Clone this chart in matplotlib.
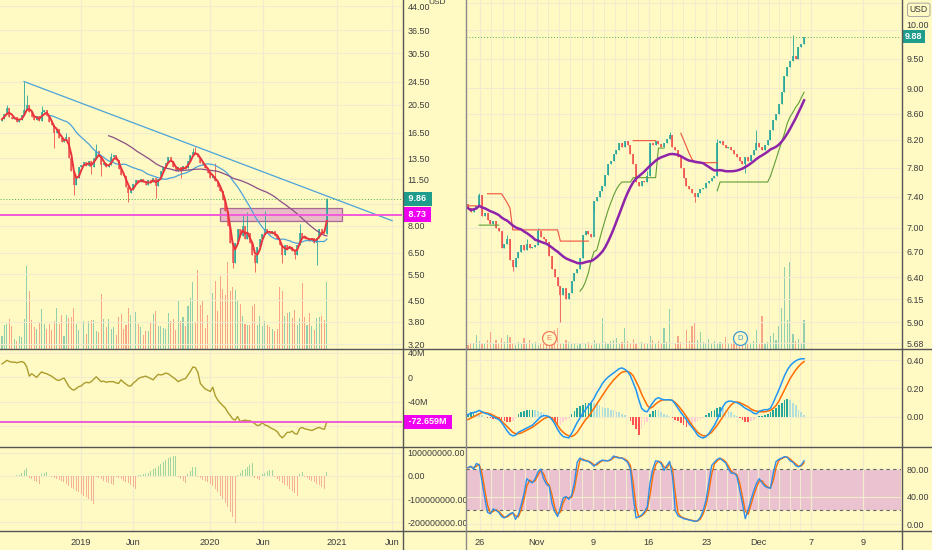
import numpy as np
import pandas as pd
import matplotlib
matplotlib.use("Agg")
import matplotlib.pyplot as plt
import matplotlib.transforms as mtransforms
from matplotlib.lines import Line2D
from matplotlib.patches import Rectangle
from matplotlib.ticker import FixedLocator, FixedFormatter, NullLocator

plt.rcParams['font.family'] = ['Liberation Sans', 'DejaVu Sans']

BG = '#fff9c4'
GRID = '#f1ecce'
UP = '#26a69a'
DN = '#ef5350'
TXT = '#3c3c3c'
SEP = '#555555'

# ---------------- left chart: weekly ----------------
l_open0 = 18.0
l_close = [18.3, 19.0, 20.0, 18.6, 18.3, 18.6, 17.9, 18.2, 18.9, 19.6,
           20.5, 19.3, 18.6, 18.2, 18.8, 18.0, 19.4, 19.6, 18.8, 17.9,
           17.5, 16.5, 17.0, 15.8, 15.3, 15.6, 15.9, 13.5, 12.2, 11.0,
           11.6, 12.6, 12.8, 13.1, 12.7, 13.2, 12.6, 13.5, 14.3, 13.8,
           12.8, 13.0, 12.6, 12.8, 13.6, 13.9, 13.3, 12.4, 11.9, 11.8,
           10.8, 10.3, 10.6, 11.1, 11.4, 11.2, 11.5, 11.2, 11.0, 11.4,
           11.2, 11.6, 10.9, 11.5, 12.2, 12.6, 13.0, 13.6, 13.2, 12.6,
           12.2, 12.6, 12.3, 12.7, 12.5, 13.2, 13.9, 14.2, 14.0, 13.6,
           13.0, 12.8, 12.5, 12.1, 11.6, 11.8, 11.3, 10.8, 10.5, 9.8,
           9.0, 8.0, 7.0, 6.0, 7.0, 7.8, 7.4, 8.0, 7.2, 7.6,
           7.0, 6.4, 6.0, 6.8, 7.2, 7.5, 7.8, 7.6, 7.5, 7.7,
           7.4, 7.2, 6.9, 6.4, 6.9, 6.7, 6.8, 6.6, 6.4, 6.9,
           7.6, 7.3, 7.2, 7.3, 7.1, 7.3, 7.0, 7.3, 7.8, 7.6,
           7.5, 9.86]
l_hi = {2: 20.5, 9: 24.5, 10: 22.0, 16: 20.3, 26: 16.4, 38: 15.1, 44: 14.1,
        77: 14.6, 78: 14.8, 86: 13.0, 97: 8.7, 99: 8.9, 106: 9.0, 120: 8.1, 131: 9.95}
l_lo = {21: 14.6, 29: 10.2, 36: 12.0, 40: 11.8, 51: 9.6, 62: 9.9, 72: 11.6,
        93: 5.75, 102: 5.6, 113: 6.0, 118: 6.2, 127: 5.9}
l_vol = [13, 24, 25, 30, 23, 10, 8, 13, 12, 30,
         84, 58, 29, 22, 20, 26, 40, 25, 20, 25,
         19, 28, 41, 25, 34, 13, 34, 31, 32, 41,
         25, 19, 23, 28, 15, 28, 29, 29, 18, 17,
         55, 30, 22, 30, 20, 22, 14, 32, 35, 20,
         24, 41, 34, 13, 37, 25, 22, 14, 18, 18,
         27, 35, 38, 23, 23, 21, 20, 36, 28, 30,
         19, 48, 28, 32, 23, 43, 51, 68, 26, 80,
         44, 48, 21, 34, 48, 56, 69, 38, 74, 61,
         54, 88, 58, 63, 60, 49, 45, 33, 25, 24,
         24, 43, 45, 24, 33, 23, 28, 24, 22, 20,
         18, 20, 63, 59, 33, 36, 37, 31, 39, 24,
         31, 67, 32, 24, 36, 23, 19, 31, 32, 33,
         29, 68]
l_ad = [22, 25, 28, 26, 25, 25, 24, 25, 26, 24,
        17, 2, 6, 3, 0, 5, 9, 7, 6, 4,
        2, -1, -4, -5, -3, -1, -8, -15, -19, -21,
        -18, -15, -14, -10, -8, -9, -7, -3, 1, -3,
        -7, -6, -8, -7, -7, -7, -9, -10, -4, -8,
        -11, -14, -14, -9, -6, -2, 0, 1, 2, 0,
        -2, -4, 1, 5, 4, 5, 7, 6, 3, 0,
        -3, -7, -5, -3, -2, 4, 10, 17, 16, 8,
        -10, -15, -19, -21, -23, -16, -30, -37, -42, -46,
        -50, -57, -62, -68, -70, -64, -72, -71, -70, -71,
        -71, -73, -76, -79, -78, -74, -78, -79, -82, -84,
        -86, -89, -95, -99, -95, -90, -90, -88, -92, -93,
        -84, -82, -84, -85, -86, -87, -85, -83, -82, -84,
        -85, -72.659]
nan = np.nan
l_osc = [nan, nan, nan, nan, nan, nan, 3, 6, 12, 25,
         36, -8, -15, -22, -28, -33, 8, 15, 18, -2,
         -6, -10, -14, -18, -22, -28, -35, -42, -50, -58,
         -64, -70, -77, -85, -92, -100, -110, -122, -4, -8,
         -14, -20, -25, -30, -36, -40, -3, -8, -14, -20,
         -26, -32, -40, -48, -55, 3, 5, 8, 10, 15,
         22, 30, 36, 44, 52, 60, 70, 78, 82, 86,
         88, -6, -15, -22, -30, 8, 22, 38, 40, -5,
         -10, -16, -22, -28, -36, -45, -56, -70, -85, -100,
         -118, -135, -155, -180, -205, 5, 15, 24, 30, 38,
         47, 55, -10, -14, -16, 8, 14, 20, 24, 26,
         -5, -12, -22, -30, -38, -45, -55, -65, -75, -85,
         10, 19, -5, -10, -16, -22, -28, -34, -40, -46,
         -56, 19]
l_xticks = [31.9, 52.8, 83.9, 105.2, 135.1, 157.3]
l_xlabels = ['2019', 'Jun', '2020', 'Jun', '2021', 'Jun']
l_yticks = [3.2, 3.8, 4.5, 5.5, 6.5, 8.0, 9.5, 11.5, 13.5, 16.5, 20.5, 24.5, 30.5, 36.5, 44.0]
l_hidden = [9.5]          # labels covered by the price badges
trend_x = [8.9, 157.3]
trend_y = [24.5, 8.33]
zone_x = [87.9, 137.1]
zone_y = [8.29, 9.22]
l_level = 8.73
ad_level = -72.659

# ---------------- right chart: intraday ----------------
r_open0 = 7.30
r_close = [7.25, 7.20, 7.25, 7.28, 7.42, 7.15, 7.18, 7.10, 7.05, 7.08,
           7.00, 6.95, 6.75, 6.80, 6.85, 6.60, 6.52, 6.62, 6.70, 6.78,
           6.72, 6.80, 6.74, 6.76, 6.78, 6.95, 6.88, 6.85, 6.82, 6.65,
           6.50, 6.40, 6.30, 6.20, 6.28, 6.15, 6.22, 6.35, 6.45, 6.50,
           6.62, 6.90, 6.95, 6.92, 6.88, 7.35, 7.40, 7.48, 7.55, 7.70,
           7.85, 7.90, 8.00, 8.05, 8.15, 8.10, 8.18, 8.12, 8.00, 7.85,
           7.60, 7.55, 7.62, 7.60, 7.68, 8.15, 8.12, 8.18, 8.14, 8.10,
           8.15, 8.22, 8.28, 8.10, 8.05, 7.95, 7.80, 7.65, 7.55, 7.50,
           7.45, 7.40, 7.45, 7.50, 7.52, 7.58, 7.62, 7.65, 7.68, 8.15,
           8.18, 8.12, 8.08, 8.10, 8.05, 8.00, 7.95, 7.90, 7.85, 7.95,
           7.90, 7.98, 8.05, 8.15, 8.10, 8.05, 8.12, 8.20, 8.35, 8.50,
           8.60, 8.75, 8.95, 9.20, 9.35, 9.45, 9.55, 9.50, 9.70, 9.75,
           9.88]
r_hi = {4: 7.45, 14: 6.9, 21: 6.86, 25: 7.0, 64: 7.75, 72: 8.32, 89: 8.22, 103: 8.35, 116: 9.92}
r_lo = {16: 6.47, 33: 5.9, 45: 7.2, 81: 7.33, 99: 7.72}
r_vol = [4, 6, 5, 14, 8, 6, 5, 9, 17, 6,
         9, 5, 11, 7, 14, 12, 6, 4, 7, 5,
         11, 6, 9, 5, 7, 4, 6, 5, 8, 5,
         7, 19, 21, 6, 5, 9, 7, 5, 6, 4,
         6, 8, 5, 7, 4, 9, 6, 5, 31, 7,
         5, 8, 9, 11, 6, 7, 21, 8, 5, 10,
         6, 13, 7, 5, 6, 13, 9, 6, 8, 5,
         21, 7, 40, 8, 6, 13, 7, 9, 19, 8,
         23, 27, 9, 17, 7, 6, 10, 5, 8, 6,
         7, 5, 12, 6, 5, 7, 4, 6, 5, 7,
         5, 6, 8, 19, 6, 33, 5, 7, 13, 16,
         9, 23, 41, 82, 29, 87, 15, 8, 10, 6,
         29]
r_stop_dn = ([7.28] * 4 + [None] * 3 + [7.44] * 6 + [7.38, 7.32, 7.25] + [6.97] * 17
             + [6.83] * 11 + [None] * 15 + [8.19] * 9 + [None] * 8
             + [8.30, 8.20, 8.10, 8.00, 7.92] + [7.87] * 9 + [None] * 31)
r_stop_up = ([None] * 4 + [7.03] * 8 + [None] * 28
             + [6.24, 6.28, 6.35, 6.45, 6.60, 6.70, 6.72, 6.85, 6.98, 7.10, 7.22, 7.32, 7.42, 7.50, 7.56]
             + [7.60] * 4 + [7.66] * 9 + [8.08] * 3 + [None] * 18 + [7.48] + [7.60] * 18
             + [7.68, 7.80, 7.92, 8.05, 8.17, 8.30, 8.45, 8.55, 8.62, 8.70, 8.76, 8.85, 8.94])
macd = [.015, .025, .03, .035, .045, .035, .025, .02, .01, 0,
        -.01, -.02, -.04, -.07, -.10, -.125, -.135, -.13, -.11, -.10,
        -.09, -.08, -.07, -.06, -.04, -.02, 0, .008, .007, 0,
        -.02, -.05, -.09, -.12, -.14, -.145, -.15, -.12, -.08, -.04,
        -.01, .025, .05, .08, .10, .13, .17, .20, .235, .26,
        .28, .295, .31, .325, .34, .345, .335, .32, .29, .24,
        .19, .12, .06, .04, .035, .07, .10, .125, .135, .125,
        .12, .12, .12, .115, .09, .06, .03, .005, -.02, -.05,
        -.075, -.10, -.13, -.145, -.15, -.14, -.12, -.09, -.06, -.02,
        .03, .07, .10, .11, .11, .105, .10, .09, .075, .06,
        .05, .04, .025, .02, .04, .045, .05, .05, .06, .10,
        .145, .19, .24, .29, .33, .36, .38, .395, .405, .41,
        .41]
signal = [-.02, -.01, 0, .01, .02, .03, .03, .025, .02, .01,
          0, -.01, -.03, -.05, -.07, -.09, -.11, -.12, -.12, -.115,
          -.105, -.095, -.085, -.075, -.06, -.045, -.03, -.015, -.005, 0,
          -.01, -.03, -.06, -.09, -.11, -.125, -.135, -.14, -.13, -.11,
          -.08, -.05, -.02, 0, .03, .06, .09, .12, .15, .18,
          .21, .235, .26, .28, .30, .315, .32, .32, .31, .29,
          .25, .21, .16, .12, .08, .06, .07, .09, .105, .115,
          .12, .12, .12, .115, .10, .08, .055, .03, 0, -.03,
          -.06, -.085, -.11, -.125, -.135, -.135, -.125, -.11, -.085, -.06,
          -.03, 0, .03, .06, .085, .10, .105, .10, .09, .08,
          .07, .055, .045, .04, .035, .035, .035, .04, .045, .06,
          .08, .11, .15, .19, .23, .27, .30, .33, .355, .375,
          .39]
hist = [.02, .03, .035, .03, .025, .01, -.005, -.01, -.012, -.014,
        -.015, -.015, -.02, -.03, -.035, -.04, -.03, -.01, .02, .03,
        .04, .045, .05, .05, .045, .04, .035, .025, .012, -.01,
        -.02, -.04, -.06, -.055, -.04, -.025, -.01, .02, .04, .06,
        .075, .085, .095, .10, .10, .095, .09, .08, .07, .065,
        .06, .05, .045, .035, .03, .02, .01, 0, -.03, -.06,
        -.09, -.13, -.09, -.06, -.035, .02, .04, .05, .045, .03,
        .02, .01, .005, -.01, -.02, -.03, -.045, -.06, -.075, -.065,
        -.05, -.04, -.03, -.02, -.01, .01, .025, .04, .05, .06,
        .07, .065, .05, .04, .03, .015, .005, -.01, -.025, -.035,
        -.04, -.03, -.02, -.01, .005, .008, .01, .02, .035, .05,
        .065, .08, .10, .115, .125, .12, .10, .08, .05, .03,
        .015]
stoch_k = [82, 84, 80, 88, 86, 62, 38, 17, 15, 22,
           20, 17, 11, 9, 12, 15, 17, 7, 14, 28,
           44, 66, 62, 60, 66, 76, 80, 66, 58, 55,
           30, 18, 11, 24, 38, 40, 36, 42, 60, 90,
           96, 93, 92, 91, 88, 84, 88, 91, 93, 92,
           92, 94, 99, 97, 96, 96, 93, 90, 80, 40,
           9, 11, 13, 18, 25, 60, 80, 92, 91, 88,
           78, 85, 91, 70, 20, 12, 10, 8, 7, 6,
           5, 4, 5, 10, 20, 35, 60, 85, 90, 94,
           96, 92, 89, 80, 74, 74, 70, 50, 30, 8,
           20, 35, 48, 59, 66, 60, 55, 53, 52, 74,
           91, 94, 96, 98, 97, 92, 90, 85, 83, 86,
           92]
ev_x = [29, 97]
ev_txt = ['E', 'D']
ev_col = ['#ef7a5c', '#3f9bd6']
r_xticks = [4.3, 24.6, 44.6, 64.6, 85.0, 103.6, 122.5, 141.0]
r_xlabels = ['26', 'Nov', '9', '16', '23', 'Dec', '7', '9']
r_yticks = [5.68, 5.90, 6.15, 6.40, 6.70, 7.00, 7.40, 7.80, 8.20, 8.60, 9.00, 9.50, 10.00, 10.50]
r_hidden = [10.50]        # label sits under the currency box

# ---------------- figure ----------------
WPX, HPX = 932, 550
fig = plt.figure(figsize=(WPX / 100, HPX / 100), dpi=100, facecolor=BG)


def pane(x0, x1, y0, y1):
    ax = fig.add_axes([x0 / WPX, 1 - y1 / HPX, (x1 - x0) / WPX, (y1 - y0) / HPX])
    ax.set_facecolor(BG)
    for s in ax.spines.values():
        s.set_visible(False)
    return ax


def yaxis_right(ax, ticks, labels, log=False):
    ax.yaxis.tick_right()
    if log:
        ax.set_yscale('log')
    ax.yaxis.set_major_locator(FixedLocator(ticks))
    ax.yaxis.set_major_formatter(FixedFormatter(labels))
    ax.yaxis.set_minor_locator(NullLocator())
    ax.tick_params(axis='y', length=0, pad=4, labelsize=6.4, labelcolor=TXT)
    ax.grid(axis='y', color=GRID, lw=0.8)


def xaxis(ax, xlim, ticks, labels, minors=None, show=False):
    ax.set_xlim(*xlim)
    ax.xaxis.set_major_locator(FixedLocator(ticks))
    if minors is not None:
        ax.xaxis.set_minor_locator(FixedLocator(minors))
        ax.grid(axis='x', which='minor', color=GRID, lw=0.7)
    ax.grid(axis='x', which='major', color=GRID, lw=0.9)
    ax.set_axisbelow(True)
    if show:
        ax.xaxis.set_major_formatter(FixedFormatter(labels))
        ax.tick_params(axis='x', which='both', length=0, pad=5, labelsize=6.6, labelcolor=TXT)
    else:
        ax.tick_params(axis='x', which='both', length=0, labelbottom=False)


def badge(ax, y, text, color, size=6.5, pad=0.3):
    ax.annotate(text, xy=(1, y), xycoords=('axes fraction', 'data'), xytext=(3, 0),
                textcoords='offset points', ha='left', va='center', color='white',
                fontsize=size, fontweight='bold', annotation_clip=False, zorder=10,
                bbox=dict(boxstyle='square,pad=%s' % pad, fc=color, ec='none'))


def candles(ax, opens, closes, hi_d, lo_d, body_w):
    c = np.asarray(closes, float)
    o = np.asarray(opens, float)
    x = np.arange(len(c))
    hi = np.maximum(o, c)
    lo = np.minimum(o, c)
    for k, v in hi_d.items():
        hi[k] = v
    for k, v in lo_d.items():
        lo[k] = v
    col = np.where(c >= o, UP, DN)
    ax.vlines(x, lo, hi, colors=col, lw=0.6, zorder=4)
    ax.vlines(x, np.minimum(o, c), np.maximum(o, c), colors=col, lw=body_w, zorder=4)
    return col


# ---------------- left chart ----------------
L0, L1 = 0, 402
lx = (-0.8, 161.3)
lc = np.array(l_close)
lo_ = np.r_[l_open0, lc[:-1]]

axL = pane(L0, L1, 0, 349)
axLv = axL.twinx()
axLv.set_zorder(0)
axL.set_zorder(1)
axL.patch.set_visible(False)
axLv.patch.set_visible(True)
axLv.patch.set_facecolor(BG)
for s in axLv.spines.values():
    s.set_visible(False)
axLv.yaxis.set_visible(False)
vcol = np.where(lc >= lo_, UP, DN)
axLv.bar(np.arange(len(l_vol)), l_vol, width=0.42, color=vcol, alpha=0.5)
axLv.set_ylim(0, max(l_vol) / 0.25)

yaxis_right(axL, l_yticks, ['' if t in l_hidden else '%.2f' % t for t in l_yticks], log=True)
axL.set_ylim(3.08, 46.1)
xaxis(axL, lx, l_xticks, l_xlabels)

candles(axL, lo_, lc, l_hi, l_lo, 1.1)
s = pd.Series(lc)
axL.plot(s.rolling(20).mean(), color='#4ca3d8', lw=0.9, zorder=5)
axL.plot(s.rolling(44).mean(), color='#8a4f86', lw=0.9, zorder=5)
axL.plot(s.rolling(3, min_periods=1).mean(), color='#e8323c', lw=1.4, zorder=6)
axL.plot(trend_x, trend_y, color='#4ca3d8', lw=0.9, zorder=5)
axL.add_patch(Rectangle((zone_x[0], zone_y[0]), zone_x[1] - zone_x[0], zone_y[1] - zone_y[0],
                        fc='#e2a6c8', ec='#8e4585', lw=0.9, alpha=0.75, zorder=3))
axL.axhline(l_level, color='#f25ad8', lw=1.4, zorder=5)
axL.axhline(lc[-1], color='#4caf50', lw=0.7, ls=(0, (1, 2)), zorder=5)
badge(axL, lc[-1], ' %.2f ' % lc[-1], '#1e9c8c')
badge(axL, l_level, ' %.2f ' % l_level, '#f000f0')
axL.text(1.065, 0.992, 'USD', transform=axL.transAxes, fontsize=6, color=TXT, ha='left', va='center')

ax2 = pane(L0, L1, 349, 447)
yaxis_right(ax2, [40, 0, -40, -80], ['40M', '0', '-40M', ''])
ax2.set_ylim(-114, 46.5)
xaxis(ax2, lx, l_xticks, l_xlabels)
ax2.plot(np.arange(len(l_ad)), l_ad, color='#ab9d2c', lw=1.0)
ax2.axhline(ad_level, color='#f25ad8', lw=1.4)
badge(ax2, ad_level, ' %.3fM ' % ad_level, '#f000f0')

ax3 = pane(L0, L1, 447, 531)
yaxis_right(ax3, [100, 0, -100, -200],
            ['100000000.00', '0.00', '-100000000.00', '-200000000.00'])
ax3.set_ylim(-239, 126)
xaxis(ax3, lx, l_xticks, l_xlabels, show=True)
osc = np.array(l_osc, float)
ax3.bar(np.arange(len(osc)), osc, width=0.4,
        color=np.where(osc >= 0, '#8fcf9a', '#f4a590'), alpha=0.85)

# ---------------- right chart ----------------
R0, R1 = 466, 901
rx = (-0.7, 154.6)
rc = np.array(r_close)
ro = np.r_[r_open0, rc[:-1]]
r_minor = []
for a, b in zip(r_xticks[:6], r_xticks[1:7]):
    r_minor += [a + (b - a) * k / 5 for k in range(1, 5)]

axR = pane(R0, R1, 0, 349)
axRv = axR.twinx()
axRv.set_zorder(0)
axR.set_zorder(1)
axR.patch.set_visible(False)
axRv.patch.set_visible(True)
axRv.patch.set_facecolor(BG)
for s_ in axRv.spines.values():
    s_.set_visible(False)
axRv.yaxis.set_visible(False)
axRv.bar(np.arange(len(r_vol)), r_vol, width=0.45, color=np.where(rc >= ro, UP, DN), alpha=0.5)
axRv.set_ylim(0, 349)

yaxis_right(axR, r_yticks, ['' if t in r_hidden else '%.2f' % t for t in r_yticks], log=True)
axR.set_ylim(5.62, 10.56)
xaxis(axR, rx, r_xticks, r_xlabels, minors=r_minor)
# nudge the 10.00 label up so the last-price badge sits just under it
for t, lab in zip(r_yticks, axR.get_yticklabels()):
    if t == 10.00:
        lab.set_va('bottom')

candles(axR, ro, rc, r_hi, r_lo, 1.2)
xr = np.arange(len(rc))
axR.plot(xr, np.array(r_stop_dn, float), color='#f0523c', lw=0.8, zorder=5)
axR.plot(xr, np.array(r_stop_up, float), color='#5f9e35', lw=0.8, zorder=5)
axR.plot(xr, pd.Series(rc).rolling(20, min_periods=1).mean(), color='#8e24aa', lw=1.8, zorder=6)
axR.axhline(rc[-1], color='#4caf50', lw=0.7, ls=(0, (1, 2)), zorder=5)
badge(axR, rc[-1], '%.2f' % rc[-1], '#1e9c8c', pad=0.22)
axR.text(1.02, 0.972, 'USD', transform=axR.transAxes, fontsize=6.2, color=TXT,
         ha='left', va='center', zorder=10,
         bbox=dict(boxstyle='round,pad=0.25', fc=BG, ec='#9a9a9a', lw=0.6))
ev_tr = mtransforms.blended_transform_factory(axR.transData, axR.transAxes)
for xe, t, c in zip(ev_x, ev_txt, ev_col):
    axR.plot([xe], [0.031], 'o', ms=10, mfc=BG, mec=c, mew=0.9, transform=ev_tr, zorder=7)
    axR.text(xe, 0.031, t, color=c, fontsize=5.5, ha='center', va='center',
             transform=ev_tr, zorder=8)

axM = pane(R0, R1, 349, 447)
yaxis_right(axM, [0.4, 0.2, 0.0], ['0.40', '0.20', '0.00'])
axM.set_ylim(-0.214, 0.479)
xaxis(axM, rx, r_xticks, r_xlabels, minors=r_minor)
h = np.array(hist)
dh = np.diff(np.r_[h[0], h])
hcol = np.where(h >= 0, np.where(dh >= 0, UP, '#b2dfdb'), np.where(dh <= 0, '#ff5252', '#ffcdd2'))
axM.bar(xr, h, width=0.6, color=hcol)
axM.plot(xr, signal, color='#ff6d00', lw=1.1)
axM.plot(xr, macd, color='#2196f3', lw=1.1)

axS = pane(R0, R1, 447, 531)
yaxis_right(axS, [80, 40, 0], ['80.00', '40.00', '0.00'])
axS.set_ylim(-10, 112)
xaxis(axS, rx, r_xticks, r_xlabels, minors=r_minor, show=True)
axS.axhspan(20, 80, fc='#ebc2cf', ec='none', zorder=0.2)
for lv in (80, 20):
    axS.axhline(lv, color='#666666', lw=0.8, ls=(0, (3, 3)))
axS.plot(xr, pd.Series(stoch_k).rolling(2, min_periods=1).mean(), color='#ff6d00', lw=1.0)
axS.plot(xr, stoch_k, color='#2f8fe8', lw=1.0)

# ---------------- separators ----------------
for y in (349, 447, 531):
    fig.add_artist(Line2D([0, 465 / WPX], [1 - y / HPX] * 2, color=SEP, lw=1))
    fig.add_artist(Line2D([466 / WPX, 1], [1 - y / HPX] * 2, color=SEP, lw=1))
for x in (402.5, 901.5):
    fig.add_artist(Line2D([x / WPX] * 2, [0, 1], color=SEP, lw=1))
fig.add_artist(Line2D([465.5 / WPX] * 2, [0, 1], color='#8a8a8a', lw=1))

fig.savefig('out.png', dpi=100, facecolor=BG)
